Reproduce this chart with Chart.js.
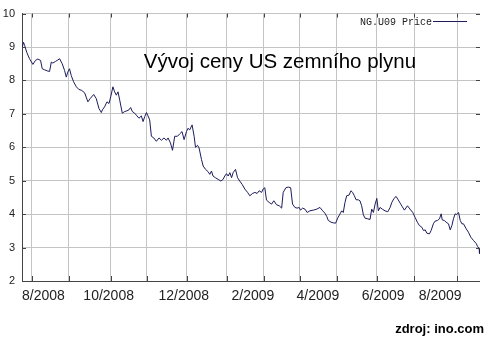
<!DOCTYPE html>
<html><head><meta charset="utf-8">
<script src="https://cdn.jsdelivr.net/npm/chart.js@4"></script>
<style>html,body{margin:0;padding:0;background:#fff;}canvas{display:block;}</style>
</head><body>
<canvas id="c" width="490" height="345"></canvas>
<script>
const titleText = 'Vývoj ceny US zemního plynu';
const seriesName = 'NG.U09 Price';
const sourceText = 'zdroj: ino.com';

const days = [0.1,0.9,1.6,2.8,4.4,6.4,7.9,9.3,10.9,11.9,13.2,15.2,16.2,17.2,18.1,19.7,20.7,22.1,23.6,25.0,26.0,26.9,27.9,28.9,30.3,31.9,33.4,34.8,36.8,38.7,40.1,42.1,43.6,45.2,46.6,47.2,48.5,49.9,51.1,52.1,53.4,54.4,55.4,56.4,57.4,58.9,60.3,61.6,62.8,63.8,64.8,66.2,67.5,68.7,70.1,71.1,72.1,73.1,74.0,75.0,76.0,77.4,78.9,80.5,81.9,83.4,84.8,85.8,87.2,88.4,89.7,91.3,92.6,94.0,95.2,96.6,97.5,98.5,99.9,101.1,101.9,103.1,104.0,105.4,106.4,107.8,109.3,110.3,111.3,112.2,113.6,115.2,116.8,118.1,119.1,120.1,121.1,122.1,123.1,124.0,125.4,126.6,127.9,129.3,130.9,132.5,133.8,135.4,136.8,138.1,139.3,140.7,141.6,142.6,143.6,145.2,146.6,147.9,149.5,151.1,152.5,153.4,155.0,156.4,157.8,158.9,160.3,161.6,162.8,163.6,164.8,166.2,167.5,169.1,171.1,173.1,175.0,176.6,177.9,179.0,179.9,181.5,182.8,184.2,185.4,186.8,187.8,188.7,189.7,190.7,192.1,193.2,194.2,195.2,196.2,197.5,198.5,199.5,200.5,201.5,203.1,204.4,205.4,206.4,207.4,208.4,209.3,210.3,211.6,213.2,214.8,216.2,217.2,218.5,219.7,220.7,222.1,223.4,224.6,226.4,227.9,229.5,230.9,232.2,233.4,234.8,235.8,236.8,237.8,239.3,240.3,241.6,242.6,244.0,245.2,246.2,246.8,248.0,249.1,250.5,251.5,252.5,253.4,254.4,255.4,256.4,257.4,258.4,259.3,260.9,262.2,263.6,265.2,266.8,267.5,268.5,268.7];
const prices = [8.99,9.14,9.04,8.84,8.65,8.48,8.60,8.64,8.60,8.35,8.32,8.28,8.27,8.55,8.52,8.57,8.60,8.65,8.50,8.30,8.10,8.25,8.35,8.15,7.96,7.81,7.73,7.71,7.63,7.36,7.46,7.58,7.46,7.16,7.04,7.12,7.21,7.36,7.31,7.51,7.81,7.66,7.56,7.66,7.41,7.02,7.07,7.09,7.12,7.19,7.07,7.02,6.94,6.87,6.94,6.77,6.92,7.04,6.94,6.82,6.33,6.28,6.18,6.28,6.21,6.28,6.21,6.28,6.13,5.91,6.33,6.33,6.40,6.47,6.23,6.47,6.57,6.52,6.67,6.33,6.00,6.06,5.98,5.64,5.44,5.34,5.27,5.19,5.29,5.14,5.09,5.04,4.99,5.04,5.14,5.21,5.14,5.24,5.09,5.24,5.34,5.09,4.99,4.89,4.75,4.65,4.55,4.62,4.65,4.62,4.70,4.65,4.75,4.79,4.42,4.35,4.30,4.40,4.28,4.25,4.18,4.65,4.79,4.81,4.79,4.30,4.20,4.18,4.20,4.12,4.18,4.15,4.05,4.10,4.12,4.15,4.20,4.10,4.03,3.93,3.81,3.76,3.74,3.73,3.88,4.01,4.10,4.05,4.35,4.55,4.57,4.70,4.65,4.55,4.43,4.43,4.40,4.25,3.98,3.88,3.86,3.84,4.15,4.05,4.30,4.47,4.10,4.20,4.15,4.10,4.07,4.20,4.35,4.47,4.53,4.45,4.33,4.22,4.12,4.25,4.15,4.05,3.90,3.76,3.66,3.61,3.51,3.53,3.43,3.41,3.51,3.71,3.79,3.81,3.86,4.01,3.83,3.81,3.76,3.71,3.53,3.66,3.86,4.01,3.99,4.05,3.81,3.71,3.71,3.56,3.46,3.31,3.21,3.12,3.04,2.97,2.82];

const yTicks = [2,3,4,5,6,7,8,9,10];
const gridDays = [5.6,27.4,52.1,73.2,96.8,120.3,142.1,163.2,185.0,208.5,230.3,255.6];
const tickLabels = ['8/2008','10/2008','12/2008','2/2009','4/2009','6/2009','8/2009'];
const tickLabelDays = [12.6,50.9,95.0,135.6,173.8,212.1,245.6];
const xMin = 0, xMax = 269;

const lineColor = '#1c1c5c';
const gridColor = '#c4c4c4';
const axisColor = '#444444';

const decor = {
  id: 'decor',
  afterDraw(chart) {
    const ctx = chart.ctx;
    const a = chart.chartArea;
    const xs = chart.scales.x, ys = chart.scales.y;
    ctx.save();
    ctx.strokeStyle = axisColor;
    ctx.lineWidth = 1;
    ctx.beginPath();
    yTicks.forEach(v => {
      const py = Math.round(ys.getPixelForValue(v)) + 0.5;
      ctx.moveTo(a.left, py); ctx.lineTo(a.left + 4, py);
      ctx.moveTo(a.right - 4, py); ctx.lineTo(a.right, py);
    });
    gridDays.forEach(v => {
      const px = Math.round(xs.getPixelForValue(v)) + 0.5;
      ctx.moveTo(px, a.bottom); ctx.lineTo(px, a.bottom - 5);
      ctx.moveTo(px, a.top); ctx.lineTo(px, a.top + 4);
    });
    ctx.stroke();

    // title
    ctx.fillStyle = '#000';
    ctx.font = '20.5px "Liberation Sans", Arial, sans-serif';
    ctx.textAlign = 'center';
    ctx.textBaseline = 'alphabetic';
    ctx.fillText(titleText, 280, 68);

    // legend
    ctx.font = '10px "Liberation Mono", "DejaVu Sans Mono", monospace';
    ctx.textAlign = 'left';
    ctx.fillStyle = '#222';
    ctx.fillText(seriesName, 360, 25);
    ctx.strokeStyle = lineColor;
    ctx.beginPath();
    ctx.moveTo(433, 21.5); ctx.lineTo(467, 21.5);
    ctx.stroke();

    // source
    ctx.font = 'bold 13px "Liberation Sans", Arial, sans-serif';
    ctx.textAlign = 'right';
    ctx.fillStyle = '#000';
    ctx.fillText(sourceText, 484, 333);
    ctx.restore();
  }
};

new Chart(document.getElementById('c'), {
  type: 'line',
  data: {
    datasets: [{
      label: seriesName,
      data: days.map((d, i) => ({ x: d, y: prices[i] })),
      borderColor: lineColor,
      borderWidth: 1,
      pointRadius: 0,
      tension: 0,
      fill: false
    }]
  },
  options: {
    responsive: false,
    animation: false,
    devicePixelRatio: 1,
    layout: { padding: { top: 11, right: 10, left: 0, bottom: 0 } },
    plugins: { legend: { display: false }, tooltip: { enabled: false }, title: { display: false } },
    scales: {
      x: {
        type: 'linear', min: xMin, max: xMax, position: 'bottom',
        afterBuildTicks(s) { s.ticks = gridDays.map(v => ({ value: v })); },
        ticks: { display: false },
        grid: { color: gridColor, lineWidth: 1, drawTicks: false },
        border: { display: false },
        afterFit(s) { s.height = 0; }
      },
      xl: {
        type: 'linear', min: xMin, max: xMax, position: 'bottom',
        afterBuildTicks(s) { s.ticks = tickLabelDays.map(v => ({ value: v })); },
        ticks: {
          autoSkip: false, maxRotation: 0, minRotation: 0, padding: 7,
          font: { family: '"Liberation Sans", Arial, sans-serif', size: 14 },
          color: '#222',
          callback: (v, i) => tickLabels[i]
        },
        grid: { display: false, drawTicks: false },
        border: { display: false },
        afterFit(s) { s.height = 64; }
      },
      y: {
        type: 'linear', min: 2, max: 10,
        afterBuildTicks(s) { s.ticks = yTicks.map(v => ({ value: v })); },
        ticks: { padding: 7, font: { family: '"Liberation Sans", Arial, sans-serif', size: 11 }, color: '#222' },
        grid: { color: c => (c.tick && c.tick.value === 2) ? axisColor : gridColor, drawTicks: false },
        border: { display: true, color: axisColor, width: 1 },
        afterFit(s) { s.width = 22; }
      }
    }
  },
  plugins: [decor]
});
</script>
</body></html>
